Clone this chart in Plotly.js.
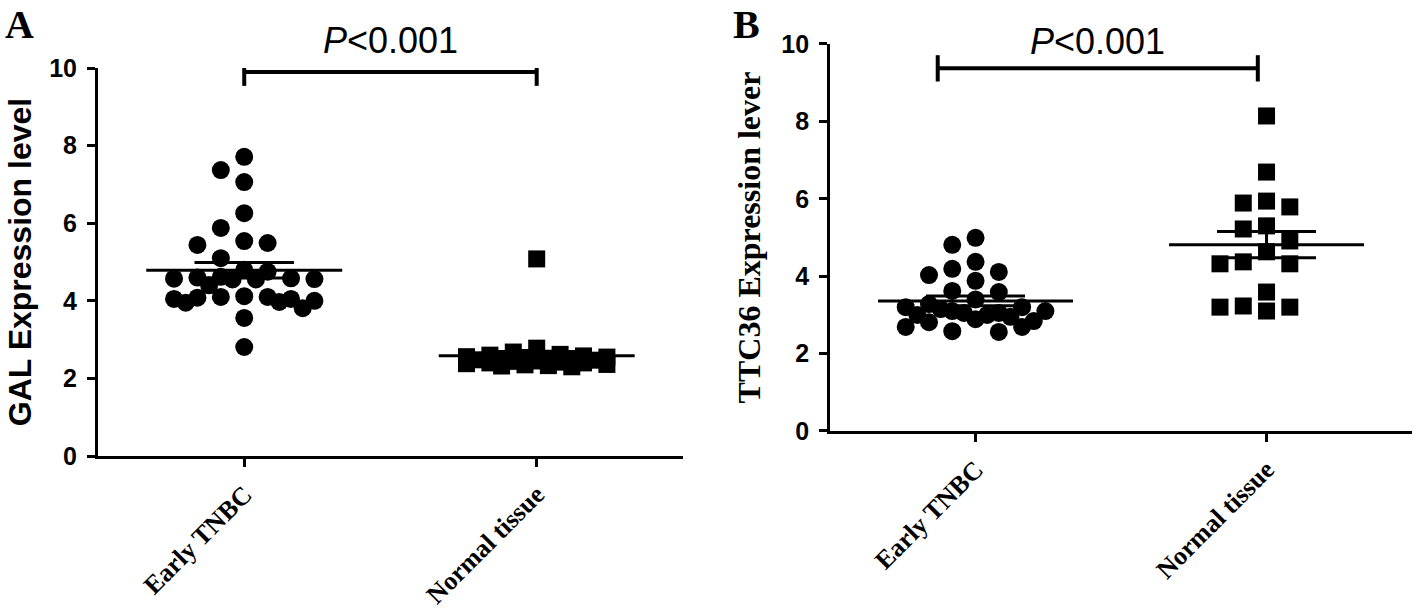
<!DOCTYPE html>
<html>
<head>
<meta charset="utf-8">
<script src="https://cdn.plot.ly/plotly-3.0.1.min.js"></script>
<style>
  html, body { margin: 0; padding: 0; background: #fff; }
  #chart { width: 1416px; height: 615px; }
</style>
</head>
<body>
<div id="chart"></div>
<script>
const groups = ['Early TNBC', 'Normal tissue'];

// panel A: GAL expression level
const galEarly = [7.71, 7.37, 7.06, 6.26, 5.88, 5.54, 5.49, 5.44, 5.10, 4.80, 4.75,
  4.62, 4.60, 4.58, 4.57, 4.56, 4.55, 4.55, 4.40, 4.12, 4.10, 4.10, 4.08, 4.05,
  4.05, 4.00, 3.97, 3.95, 3.81, 3.56, 2.81];
const galNormal = [5.08, 2.78, 2.68, 2.62, 2.60, 2.58, 2.56, 2.55, 2.54, 2.52, 2.50,
  2.50, 2.48, 2.47, 2.45, 2.44, 2.42, 2.40, 2.40, 2.38, 2.36, 2.35, 2.33, 2.32, 2.30];

// panel B: TTC36 expression level
const ttcEarly = [4.99, 4.81, 4.37, 4.19, 4.11, 4.03, 3.88, 3.62, 3.59, 3.40, 3.28,
  3.20, 3.10, 3.05, 3.20, 3.10, 3.05, 3.00, 3.15, 2.95, 3.00, 2.89, 2.84, 2.81,
  2.69, 2.69, 2.58, 2.56];
const ttcNormal = [8.14, 6.69, 5.94, 5.89, 5.79, 5.30, 5.22, 4.91, 4.63, 4.37, 4.32,
  4.32, 3.59, 3.23, 3.20, 3.20, 3.10];

const yTicks = [0, 2, 4, 6, 8, 10];
const pLabel = '<i>P</i>&lt;0.001';

// spread overlapping points sideways into columns, like a column scatter plot;
// when every column is taken, squeeze into the half-step gaps
function swarm(values, center) {
  const step = 0.08, gap = 0.46, maxCol = 3;
  const cols = [0], all = [0];
  for (let k = 1; k <= maxCol; k++) cols.push(-k, k);
  for (let k = 0.5; k <= maxCol; k += 0.5) all.push(-k, k);
  const placed = [];
  function dist(c, v) {
    let d = Infinity;
    placed.forEach(function (p) { if (p.c === c) d = Math.min(d, Math.abs(p.v - v)); });
    return d;
  }
  return values.map(function (v) {
    let best = null;
    for (const c of cols) {
      if (dist(c, v) >= gap) { best = c; break; }
    }
    if (best === null) {
      let bestDist = -1;
      for (const c of all) {
        const d = dist(c, v);
        if (d > bestDist) { best = c; bestDist = d; }
      }
    }
    placed.push({ c: best, v: v });
    return center + best * step;
  });
}

function meanSem(values) {
  const n = values.length;
  const mean = values.reduce((a, b) => a + b, 0) / n;
  const sd = Math.sqrt(values.reduce((a, b) => a + (b - mean) * (b - mean), 0) / (n - 1));
  return { mean: mean, sem: sd / Math.sqrt(n) };
}

function groupTraces(values, center, symbol, size, xa, ya) {
  const s = meanSem(values);
  const hw = 0.335, ew = 0.17;
  const top = s.mean + s.sem, bot = s.mean - s.sem;
  return [
    {
      x: swarm(values, center), y: values, xaxis: xa, yaxis: ya,
      type: 'scatter', mode: 'markers',
      marker: { symbol: symbol, size: size, color: '#000' }
    },
    {
      x: [center - hw, center + hw], y: [s.mean, s.mean], xaxis: xa, yaxis: ya,
      type: 'scatter', mode: 'lines', line: { color: '#000', width: 3 }
    },
    {
      x: [center - ew, center + ew, null, center, center, null, center - ew, center + ew],
      y: [top, top, null, top, bot, null, bot, bot], xaxis: xa, yaxis: ya,
      type: 'scatter', mode: 'lines', line: { color: '#000', width: 3 }
    }
  ];
}

function bracket(x0, x1, y, cap, xa, ya) {
  return {
    x: [x0, x0, null, x0, x1, null, x1, x1],
    y: [y - cap, y + cap, null, y, y, null, y - cap, y + cap],
    xaxis: xa, yaxis: ya, type: 'scatter', mode: 'lines', cliponaxis: false,
    line: { color: '#000', width: 4 }
  };
}

const data = [].concat(
  groupTraces(galEarly, 0, 'circle', 18, 'x', 'y'),
  groupTraces(galNormal, 1, 'square', 17, 'x', 'y'),
  groupTraces(ttcEarly, 0, 'circle', 18, 'x2', 'y2'),
  groupTraces(ttcNormal, 1, 'square', 17, 'x2', 'y2'),
  [bracket(0, 1, 9.9, 0.36, 'x', 'y'), bracket(-0.13, 0.97, 9.37, 0.34, 'x2', 'y2')]
);

function xAxis(domain, anchor) {
  return {
    domain: domain, anchor: anchor, range: [-0.5, 1.5],
    tickvals: [0, 1], ticktext: groups, tickangle: -45,
    ticks: 'outside', ticklen: 8, tickwidth: 3, tickcolor: '#000',
    ticklabelstandoff: 2,
    showline: true, linewidth: 3, linecolor: '#000',
    showgrid: false, zeroline: false, fixedrange: true,
    tickfont: { family: 'Liberation Serif', size: 26, weight: 'bold', color: '#000' }
  };
}

function yAxis(domain, anchor, title, titleFamily, standoff) {
  return {
    domain: domain, anchor: anchor, range: [0, 10],
    tickvals: yTicks, ticks: 'outside', ticklen: 8, tickwidth: 3, tickcolor: '#000',
    ticklabelstandoff: 5,
    showline: true, linewidth: 3, linecolor: '#000',
    showgrid: false, zeroline: false, fixedrange: true,
    tickfont: { family: 'Liberation Sans', size: 25, weight: 'bold', color: '#000' },
    title: { text: title, standoff: standoff,
      font: { family: titleFamily, size: 32, weight: 'bold', color: '#000' } }
  };
}

const layout = {
  width: 1416, height: 615,
  margin: { l: 0, r: 0, t: 0, b: 0 },
  paper_bgcolor: '#fff', plot_bgcolor: '#fff',
  showlegend: false,
  xaxis: xAxis([0.0692, 0.4823], 'y'),
  yaxis: yAxis([0.2585, 0.8894], 'x', 'GAL Expression level', 'Liberation Sans', 8),
  xaxis2: xAxis([0.5862, 0.9972], 'y2'),
  yaxis2: yAxis([0.2992, 0.9285], 'x2', 'TTC36 Expression lever', 'Liberation Serif', 12),
  annotations: [
    { xref: 'x', yref: 'y', x: 0.5, y: 9.9, yshift: 31, text: pLabel, showarrow: false,
      font: { family: 'Liberation Sans', size: 36, color: '#000' } },
    { xref: 'x2', yref: 'y2', x: 0.42, y: 9.37, yshift: 27, text: pLabel, showarrow: false,
      font: { family: 'Liberation Sans', size: 36, color: '#000' } },
    { xref: 'paper', yref: 'paper', x: 0.002, y: 1.0, xanchor: 'left', yanchor: 'top',
      text: 'A', showarrow: false,
      font: { family: 'Liberation Serif', size: 40, weight: 'bold', color: '#000' } },
    { xref: 'paper', yref: 'paper', x: 0.516, y: 1.0, xanchor: 'left', yanchor: 'top',
      text: 'B', showarrow: false,
      font: { family: 'Liberation Serif', size: 40, weight: 'bold', color: '#000' } }
  ]
};

Plotly.newPlot('chart', data, layout, { displayModeBar: false, staticPlot: true });
</script>
</body>
</html>
